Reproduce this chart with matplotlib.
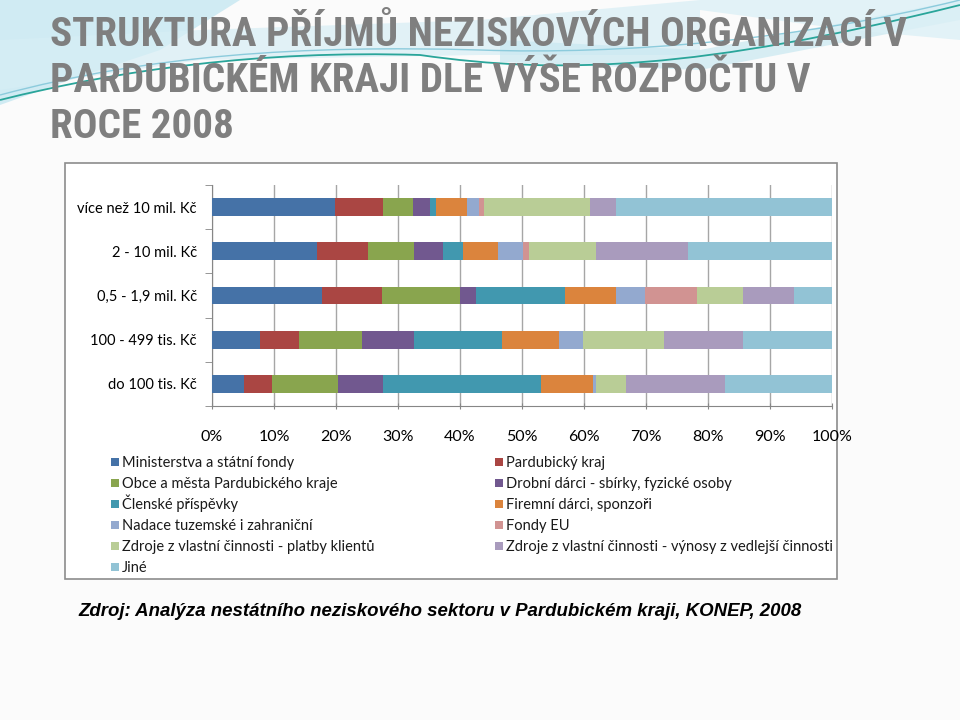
import numpy as np
import matplotlib
matplotlib.use("Agg")
import matplotlib.pyplot as plt
from matplotlib.patches import Rectangle, PathPatch
from matplotlib.path import Path
from matplotlib.font_manager import findfont, FontProperties

# kategorie (shora dolu) a podily zdroju v %
categories = ["více než 10 mil. Kč", "2 - 10 mil. Kč", "0,5 - 1,9 mil. Kč",
              "100 - 499 tis. Kč", "do 100 tis. Kč"]

ministerstva = [19.8, 17.0, 17.7, 7.8, 5.1]
pardubicky_kraj = [7.8, 8.2, 9.7, 6.2, 4.5]
obce = [4.8, 7.4, 12.6, 10.2, 10.7]
drobni_darci = [2.8, 4.7, 2.6, 8.4, 7.2]
clenske = [1.0, 3.2, 14.3, 14.1, 25.5]
firemni = [4.9, 5.7, 8.3, 9.2, 8.4]
nadace = [1.9, 3.9, 4.7, 4.0, 0.5]
fondy_eu = [0.9, 1.1, 8.3, 0.0, 0.0]
platby = [17.1, 10.7, 7.4, 13.0, 4.9]
vynosy = [4.2, 14.8, 8.2, 12.7, 16.0]
jine = [34.8, 23.3, 6.2, 14.4, 17.2]

series = [ministerstva, pardubicky_kraj, obce, drobni_darci, clenske, firemni,
          nadace, fondy_eu, platby, vynosy, jine]
names = ["Ministerstva a státní fondy", "Pardubický kraj",
         "Obce a města Pardubického kraje", "Drobní dárci - sbírky, fyzické osoby",
         "Členské příspěvky", "Firemní dárci, sponzoři",
         "Nadace tuzemské i zahraniční", "Fondy EU",
         "Zdroje z vlastní činnosti - platby klientů",
         "Zdroje z vlastní činnosti - výnosy z vedlejší činnosti", "Jiné"]
colors = ["#4572A7", "#AA4643", "#89A54E", "#71588F", "#4198AF", "#DB843D",
          "#93A9CF", "#D19392", "#B9CD96", "#A99BBD", "#92C3D5"]

title_lines = ["STRUKTURA PŘÍJMŮ NEZISKOVÝCH ORGANIZACÍ V",
               "PARDUBICKÉM KRAJI DLE VÝŠE ROZPOČTU V",
               "ROCE 2008"]
source = "Zdroj: Analýza nestátního neziskového sektoru v Pardubickém kraji, KONEP, 2008"

fig = plt.figure(figsize=(9.6, 7.2), dpi=100)
fig.patch.set_facecolor("#fbfbfb")

# pozadi v pixelech
bg = fig.add_axes([0, 0, 1, 1], zorder=-1)
bg.set_xlim(0, 960)
bg.set_ylim(720, 0)
bg.axis("off")

def swoosh(top, bottom, color, alpha):
    pts = top + bottom[::-1]
    bg.fill([p[0] for p in pts], [p[1] for p in pts], color=color, alpha=alpha, lw=0)

swoosh([(0, 0), (240, 0)], [(0, 105), (70, 80), (160, 50), (240, 0)], "#c6e7f1", 0.8)
swoosh([(0, 40), (200, 30), (480, 20), (700, 0)],
       [(0, 90), (200, 60), (480, 55), (700, 55)], "#d6eef5", 0.7)
swoosh([(500, 40), (700, 50), (960, 0)], [(500, 62), (700, 70), (960, 20)], "#c8e8f1", 0.7)
swoosh([(700, 0), (960, 0)], [(700, 10), (850, 30), (960, 40)], "#dcf0f6", 0.8)

teal = Path([(0, 100), (120, 70), (260, 50), (420, 55),
             (560, 75), (700, 70), (960, 5)],
            [Path.MOVETO, Path.CURVE4, Path.CURVE4, Path.CURVE4,
             Path.CURVE4, Path.CURVE4, Path.CURVE4])
bg.add_patch(PathPatch(teal, fill=False, edgecolor="#2aa59a", lw=1.3))
light = Path([(0, 95), (150, 55), (300, 45), (480, 50),
              (620, 55), (800, 40), (960, 0)],
             [Path.MOVETO, Path.CURVE4, Path.CURVE4, Path.CURVE4,
              Path.CURVE4, Path.CURVE4, Path.CURVE4])
bg.add_patch(PathPatch(light, fill=False, edgecolor="#8ccbdc", lw=1.0))

# nadpis - vybrat nejuzsi dostupne pismo a velikost podle sirky 855 px
renderer = fig.canvas.get_renderer()
best = None
for fam in ["Liberation Sans Narrow", "DejaVu Sans Condensed", "Roboto Condensed",
            "Roboto", "Liberation Sans"]:
    try:
        findfont(FontProperties(family=fam, weight="bold"), fallback_to_default=False)
    except ValueError:
        continue
    t = bg.text(0, 0, title_lines[0], fontsize=30, fontweight="bold", family=fam)
    w = t.get_window_extent(renderer).width
    t.remove()
    size = 30 * 855 / w
    if best is None or size > best[1]:
        best = (fam, size)

for i, line in enumerate(title_lines):
    bg.text(50, 46 + i * 46, line, fontsize=best[1], fontweight="bold",
            family=best[0], color="#7f7f7f", va="baseline", ha="left")

# ramecek grafu
bg.add_patch(Rectangle((65, 163), 772, 416, facecolor="white",
                       edgecolor="#8c8c8c", lw=1.2))

ax = fig.add_axes([212 / 960, 1 - 406 / 720, 620 / 960, 221 / 720])
ax.set_facecolor("none")
y = np.arange(len(categories))
left = np.zeros(len(categories))
for vals, name, c in zip(series, names, colors):
    ax.barh(y, vals, left=left, height=0.4, color=c, label=name, zorder=3)
    left += np.array(vals)

ax.set_xlim(0, 100)
ax.set_ylim(len(categories) - 0.5, -0.5)
ax.set_xticks(np.arange(0, 101, 10))
ax.set_xticklabels([f"{v}%" for v in range(0, 101, 10)], family="Lato", fontsize=11.5)
ax.set_yticks(y)
ax.set_yticklabels(categories, family="Lato", fontsize=10.5)
ax.set_yticks(np.arange(-0.5, len(categories), 1), minor=True)
ax.tick_params(axis="y", which="major", length=0, pad=11)
ax.tick_params(axis="y", which="minor", length=5, color="#868686", direction="out")
ax.tick_params(axis="x", length=5, color="#868686", direction="inout", pad=15)
ax.grid(axis="x", color="#a6a6a6", lw=1, zorder=0)
for s in ["top", "right"]:
    ax.spines[s].set_visible(False)
for s in ["left", "bottom"]:
    ax.spines[s].set_color("#868686")

# legenda: dva sloupce, poradi po radcich
for i, (name, c) in enumerate(zip(names, colors)):
    row, col = divmod(i, 2)
    x0 = 110.5 if col == 0 else 494.5
    yc = 462 + row * 21
    bg.add_patch(Rectangle((x0, yc - 4), 8, 8, facecolor=c, lw=0))
    bg.text(x0 + 11.5, yc + 5, name, family="Lato", fontsize=10.5,
            color="#1a1a1a", va="baseline", ha="left")

bg.text(78, 616, source, fontsize=13.4, fontweight="bold", style="italic",
        family="Liberation Sans", color="black", va="baseline")

fig.savefig("out.png", dpi=100, facecolor=fig.get_facecolor())
